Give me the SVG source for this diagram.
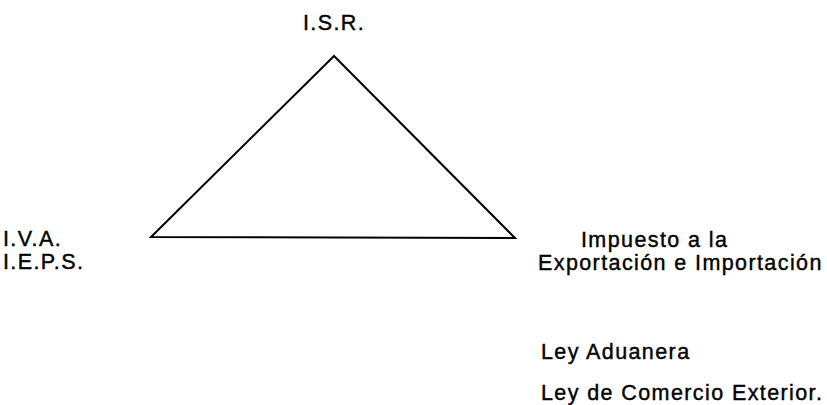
<svg xmlns="http://www.w3.org/2000/svg" width="827" height="405" viewBox="0 0 827 405">
<style>
text{font-family:"Liberation Sans",Arial,sans-serif;font-size:21.5px;letter-spacing:1.4px;fill:#000;stroke:#000;stroke-width:0.4}
.tri{fill:none;stroke:#000;stroke-width:2}
</style>
<rect width="827" height="405" fill="#fff"/>
<g id="connectors">
<polygon class="tri" points="334,56 151,237 515,238"/>
</g>
<g id="isr"><text x="303" y="30">I.S.R.</text></g>
<g id="iva"><text x="3" y="246">I.V.A.</text><text x="3" y="269">I.E.P.S.</text></g>
<g id="impuesto"><text x="581" y="247">Impuesto a la</text><text x="538" y="270">Exportación e Importación</text></g>
<g id="leyes"><text x="541" y="359">Ley Aduanera</text><text x="541" y="400">Ley de Comercio Exterior.</text></g>
</svg>
